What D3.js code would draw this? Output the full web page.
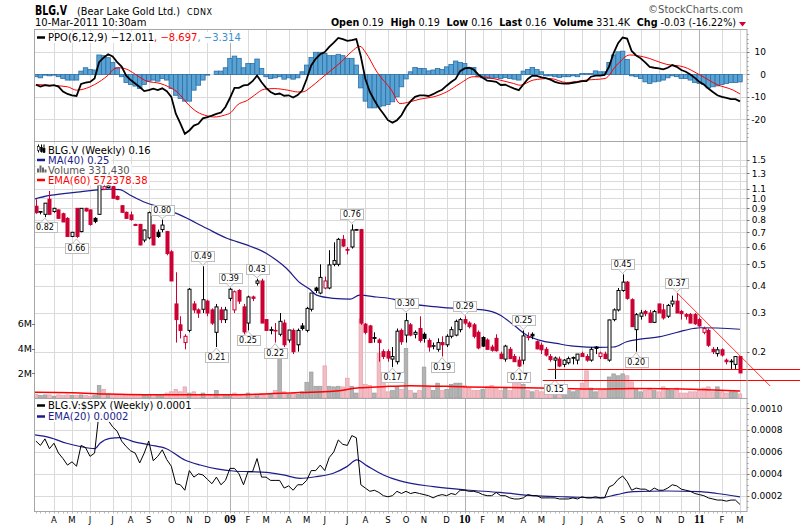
<!DOCTYPE html>
<html>
<head>
<meta charset="utf-8">
<script src="https://cdn.jsdelivr.net/npm/d3@7"></script>
<style>
  body { margin: 0; background: #fff; }
  svg { display: block; }
  text { font-family: "DejaVu Sans", sans-serif; }
</style>
</head>
<body>
<div id="chart"></div>
<script>
// Weekly bars, one per Monday from 10-Mar-2008 to 7-Mar-2011
const opens = [
  .92,.87,.845,.99,.87,.885,.85,.81,.67,.90,
  .705,.90,.885,.81,.845,1.10,1.12,1.13,1.02,.925,
  .863,.84,.76,.76,.645,.66,.756,.70,.72,.705,
  .57,.33,.265,.22,.25,.33,.31,.312,.34,.31,
  .245,.31,.28,.35,.31,.38,.32,.27,.355,.41,
  .42,.28,.25,.25,.24,.27,.226,.25,.215,.262,
  .25,.312,.39,.37,.39,.39,.50,.50,.65,.585,
  .60,.72,.72,.267,.262,.232,.226,.20,.20,.185,
  .18,.25,.238,.265,.24,.255,.24,.225,.212,.205,
  .22,.215,.235,.238,.252,.28,.27,.265,.245,.232,
  .226,.21,.23,.195,.185,.205,.19,.183,.183,.232,
  .24,.222,.214,.205,.19,.183,.185,.175,.178,.188,
  .183,.196,.19,.183,.21,.19,.195,.183,.28,
  .31,.38,.415,.345,.252,.29,.305,.30,.272,.33,
  .31,.29,.33,.34,.305,.295,.295,.295,.28,.245,
  .25,.205,.196,.204,.183,.18,.175,.19
];
const highs = [
  .99,.875,.95,1.08,.905,.89,.86,.82,.70,.90,
  .90,.905,.89,.82,1.15,1.16,1.15,1.14,1.03,.93,
  .87,.87,.765,.765,.72,.87,.76,.72,.80,.71,
  .58,.46,.29,.24,.39,.34,.315,.49,.345,.315,
  .33,.32,.32,.39,.38,.385,.33,.36,.36,.43,
  .43,.28,.26,.27,.30,.28,.25,.255,.255,.27,
  .32,.37,.395,.50,.44,.58,.63,.66,.68,.60,
  .76,.725,.725,.27,.265,.245,.23,.205,.205,.21,
  .255,.255,.30,.27,.25,.29,.245,.23,.22,.23,
  .235,.24,.26,.28,.285,.29,.275,.27,.25,.235,
  .23,.215,.24,.20,.215,.21,.195,.19,.25,.245,
  .245,.225,.22,.21,.195,.19,.19,.185,.19,.19,
  .195,.20,.195,.21,.212,.20,.20,.28,.315,
  .39,.45,.42,.35,.30,.31,.31,.31,.31,.33,
  .33,.33,.36,.37,.31,.30,.30,.30,.285,.26,
  .255,.21,.21,.207,.186,.185,.19,.19
];
const lows = [
  .85,.845,.82,.84,.86,.81,.78,.67,.665,.66,
  .70,.87,.75,.77,.84,1.09,1.11,1.00,.98,.86,
  .81,.79,.75,.61,.63,.65,.61,.66,.70,.55,
  .42,.22,.23,.205,.245,.30,.285,.30,.29,.265,
  .21,.27,.27,.34,.30,.33,.24,.25,.34,.40,
  .27,.25,.24,.22,.235,.21,.22,.195,.20,.25,
  .245,.305,.37,.365,.385,.385,.49,.49,.60,.555,
  .59,.715,.265,.24,.22,.22,.18,.185,.18,.17,
  .175,.215,.22,.235,.23,.22,.22,.20,.205,.20,
  .19,.21,.23,.235,.245,.265,.255,.23,.205,.21,
  .205,.20,.20,.185,.18,.185,.18,.17,.175,.225,
  .228,.205,.195,.19,.18,.15,.17,.17,.175,.175,
  .175,.19,.18,.18,.195,.185,.185,.18,.275,
  .305,.375,.345,.26,.20,.28,.29,.27,.27,.30,
  .28,.285,.32,.30,.28,.28,.27,.265,.26,.24,
  .21,.195,.19,.19,.175,.165,.165,.16
];
const closes = [
  .86,.865,.95,.845,.90,.81,.78,.67,.70,.67,
  .90,.875,.76,.785,1.15,1.13,1.14,1.00,.99,.863,
  .81,.80,.752,.613,.717,.86,.613,.67,.755,.56,
  .42,.28,.25,.235,.385,.31,.30,.345,.30,.27,
  .32,.28,.31,.385,.375,.34,.246,.355,.35,.42,
  .27,.25,.252,.25,.275,.215,.251,.20,.25,.255,
  .315,.37,.38,.436,.42,.497,.52,.65,.606,.58,
  .717,.72,.27,.245,.22,.23,.22,.19,.187,.19,
  .248,.222,.277,.238,.245,.225,.23,.21,.213,.22,
  .215,.235,.252,.275,.28,.27,.26,.235,.208,.212,
  .205,.203,.202,.186,.212,.186,.18,.172,.236,.234,
  .236,.206,.204,.193,.184,.187,.172,.183,.186,.187,
  .195,.19,.183,.205,.207,.197,.186,.279,.31,
  .38,.415,.35,.26,.295,.30,.298,.272,.305,.30,
  .285,.325,.34,.30,.298,.29,.27,.268,.262,.255,
  .214,.20,.204,.193,.18,.181,.19,.16
];
// volume in millions of shares
const volumes = [
  .30,.20,.25,.25,.15,.25,.20,.25,.20,.20,
  .25,.20,.15,.20,1.0,.7,.3,.3,.25,.3,
  .25,.2,.25,.3,.25,.3,.3,.25,.3,.4,
  .5,.7,.5,.9,.4,.5,.3,.4,.3,.3,
  .6,.3,.3,.3,.4,.3,.3,.4,.3,.3,
  .35,.3,.3,.6,3.3,.5,.3,.4,.3,.5,
  1.27,2.1,.95,.95,2.6,.95,.9,.95,.9,1.6,
  .95,.4,6.4,1.1,1.0,.4,3.6,1.3,.5,.6,
  .9,.7,4.0,.6,.4,.6,2.5,.9,.6,1.2,
  .6,.7,1.1,1.2,1.2,1.0,.8,.6,.6,.7,
  .9,1.0,.8,.6,.8,.6,1.3,2.0,1.1,.6,
  .5,.6,.5,.6,.7,.9,.6,.5,.6,.5,
  .6,1.2,2.2,.8,.5,.6,.7,1.7,1.95,
  1.8,1.95,1.8,1.3,.7,.5,.6,.8,.6,.5,
  .9,.7,.6,.8,.4,.4,.5,.5,.6,.8,
  .9,.5,.9,.5,.4,.5,.5,.33143
];
const ppo = [
  -4.6,-5.4,-4.8,-5.1,-4.8,-5.4,-7.6,-8.7,-9.3,-9.6,
  -4.2,-3.6,-3.3,-1.8,5.5,7.5,9.0,8.0,5.5,3.5,
  -0.5,-2.5,-4.0,-5.6,-7.4,-7.0,-6.3,-7.0,-6.2,-7.5,
  -10.0,-17.5,-21.8,-26.5,-25.0,-22.8,-22.0,-19.6,-19.0,-18.4,
  -17.6,-17.0,-14.5,-10.5,-6.0,-6.0,-4.9,-4.6,-3.0,-0.5,
  -3.5,-6.0,-7.8,-8.9,-8.5,-9.5,-9.3,-10.3,-9.2,-7.2,
  -2.0,4.0,7.0,9.0,10.0,12.3,14.2,16.3,15.8,15.0,
  15.3,15.8,8.0,-2.0,-7.8,-11.5,-14.9,-17.5,-20.4,-21.5,
  -20.4,-18.2,-14.5,-12.0,-10.0,-9.3,-9.3,-9.6,-8.8,-7.7,
  -6.8,-5.0,-3.4,-2.0,1.5,2.7,3.0,2.2,0.0,-1.5,
  -2.8,-3.0,-3.3,-4.7,-4.6,-5.5,-6.3,-7.0,-4.5,-2.0,
  -0.5,-0.6,-1.3,-1.6,-2.3,-3.3,-3.9,-4.1,-4.1,-3.7,
  -3.4,-3.0,-3.0,-1.0,-0.5,-0.5,-0.2,3.5,9.5,
  14.0,16.5,16.0,10.5,8.5,7.2,5.4,3.4,3.0,2.7,
  2.3,3.0,4.2,3.4,2.0,1.2,0.0,-1.5,-3.3,-4.5,
  -6.3,-7.8,-9.3,-10.0,-10.4,-11.0,-11.0,-12.011
];
const ppoHist = [
  -1.0,-1.5,-0.3,-0.6,-0.3,-1.0,-1.8,-2.5,-2.5,-2.5,
  1.5,3.0,2.2,2.0,8.7,8.4,7.5,5.4,3.0,-1.0,
  -3.6,-4.5,-5.2,-6.3,-4.5,-3.0,-2.5,-3.0,-1.8,-2.5,
  -6.3,-9.3,-10.7,-11.9,-11.9,-7.0,-4.8,-2.5,-0.3,0.0,
  1.5,1.5,3.0,7.2,8.2,7.2,3.0,4.9,4.9,6.9,
  2.7,-1.0,-1.8,-1.5,-1.0,-2.1,-1.5,-2.1,-1.5,1.2,
  4.2,7.6,9.9,9.9,9.4,8.4,8.4,9.0,8.4,7.2,
  7.2,4.2,-6.0,-11.9,-14.9,-14.9,-14.5,-14.0,-13.4,-12.2,
  -10.0,-5.5,-2.0,1.2,3.1,2.7,2.7,1.6,2.0,2.7,
  2.2,3.4,4.5,6.0,5.4,4.9,3.1,3.1,-1.0,-1.5,
  -1.8,-1.8,-1.5,-1.8,-1.3,-1.8,-2.1,-2.5,1.5,2.2,
  3.1,2.2,1.2,-0.6,-0.6,-1.0,-1.3,-1.0,-1.0,-0.6,
  -1.0,0.4,0.4,0.4,1.6,1.2,1.2,5.4,8.7,
  10.1,10.4,6.7,-0.6,-1.0,-1.8,-3.3,-4.0,-3.3,-3.0,
  -2.5,-1.5,-0.6,-1.0,-1.8,-1.8,-2.5,-3.6,-4.0,-4.5,
  -6.0,-5.5,-5.1,-4.5,-4.0,-3.6,-3.6,-3.314
];
// BLG.V : $SPX ratio
const ratio = [
  .00070,.00066,.00072,.00063,.00068,.00059,.00054,.00048,.00051,.00047,
  .00066,.00064,.00056,.00059,.00096,.00092,.00089,.00083,.00079,.00070,
  .00065,.00061,.00059,.00050,.00059,.00070,.00052,.00056,.00062,.00053,
  .00047,.00031,.00030,.00025,.00043,.00037,.00040,.00039,.00035,.00031,
  .00037,.00030,.00034,.00045,.00045,.00040,.00030,.00042,.00042,.00054,
  .00037,.00037,.00034,.00034,.00034,.00027,.00029,.00025,.00030,.00030,
  .00034,.00043,.00043,.00048,.00043,.00055,.00060,.00071,.00067,.00066,
  .00075,.00073,.00030,.00027,.00024,.00025,.00023,.00020,.00019,.00020,
  .00024,.00022,.00024,.00022,.00023,.00022,.00021,.00020,.00018,.00020,
  .00021,.00020,.00022,.00021,.00025,.00025,.00024,.00024,.00023,.00021,
  .00020,.00020,.00023,.00020,.00020,.00018,.00017,.00017,.00018,.00021,
  .00020,.00020,.00018,.00018,.00018,.00018,.00017,.00017,.00017,.00018,
  .00017,.00019,.00018,.00018,.00019,.00018,.00018,.00028,.00030,
  .00035,.00038,.00033,.00025,.00027,.00026,.00026,.00024,.00027,.00025,
  .00025,.00027,.00030,.00029,.00026,.00025,.00024,.00022,.00021,.00020,
  .00018,.00017,.00016,.00016,.00015,.00016,.00016,.00012
];

// smooth overlay lines, read at (bar index, value)
const signalIdx = [0,7,9,12,13,16,17.5,18.6,20.5,22.3,24.6,27.5,29.4,31.3,33.9,35.7,38,39.4,41.7,43.2,44.6,46.9,48.4,50.6,52.8,55.8,58,59.1,61,62.8,65,67.7,69.9,71.8,73,75.6,78.8,80.7,82.9,85.1,88.1,91,94,96.9,99.9,102.8,105.8,107.3,110.2,113.9,117.6,122,126.1,128.7,131.6,134.6,139.8,143.5,147.2,150.9,154.5,156];
const signalVal = [-4.5,-5.5,-7.0,-5.5,-4.5,-0.3,2.7,3.0,2.0,-0.3,-3.0,-4.0,-5.5,-7.8,-13.7,-16.7,-18.5,-19,-18.2,-17,-13.7,-11.5,-9.3,-6.6,-6.3,-7,-7.8,-7.8,-5.5,-2.5,1.2,5.7,10.1,12.6,10.0,1.0,-7.0,-13.0,-12.2,-11,-10,-7.8,-4,-1.0,-1.3,-2.5,-4,-4.8,-2.5,-1.8,-3.6,-2.5,-1.8,4.2,8.7,7.9,4.5,3.4,-0.3,-4.5,-7,-8.697];
const maIdx = [-1.3,3.1,9.8,16.4,18.6,20.8,23.8,28.2,31.9,37.8,42.3,46.7,51.1,53.4,55.5,58.5,60.7,62.2,65.9,69.6,71.7,75.5,79.2,80.7,88.1,93.2,99.1,102.8,105.8,108.7,111.7,115.4,119.1,125,128,130.9,133.9,138.3,142.7,145.7,147.2,156];
const maVal = [.98,1.03,1.07,1.10,1.095,1.035,.965,.90,.84,.73,.657,.613,.56,.52,.48,.412,.385,.362,.35,.347,.362,.355,.347,.338,.321,.315,.31,.294,.265,.238,.225,.218,.212,.209,.21,.222,.228,.234,.247,.255,.257,.253];
const volEmaIdx = [-0.2,8,16,24,34,44,52.6,58.5,65.9,71.7,76.9,82.8,95.4,111.7,125,132.4,147.2,156];
const volEmaVal = [.46,.42,.32,.27,.26,.27,.36,.44,.54,.82,.92,1.0,.9,.8,.72,.76,.68,.57237838];
const ratEmaIdx = [-0.2,3.1,6.8,9.8,13.1,14.2,16.4,18.6,21.6,25.3,28.9,33,36.4,40.1,43.7,47.4,51.1,54.8,58.5,62.2,65.9,68.9,71.1,73.3,77,80.7,88.1,95.4,102.8,110.2,117.6,125,128.7,132.4,139.8,147.2,150.9,156];
const ratEmaVal = [.000756,.000732,.00068,.00065,.00063,.00068,.000725,.000732,.000695,.000664,.00063,.000527,.000481,.000445,.000426,.00042,.000414,.00039,.000359,.000375,.000405,.000466,.000527,.000475,.00039,.000335,.000283,.000252,.00023,.0002,.00019,.00018,.00021,.000237,.000243,.000237,.00022,.00019];

// annotated highs (H) and lows (L)
const labelIdx  = [2,9,28,37,40,43,47,49,53,70,79,82,90,95,107,108,115,130,133,142];
const labelSide = ["L","L","H","H","L","H","L","H","L","H","L","H","L","H","L","H","L","H","L","H"];

// hand-drawn support lines and trend line
const supportPrice = [0.166, 0.149];
const supportFrom  = [113.4, 112.3];
const trendIdx   = [142.1, 162.7];
const trendPrice = [0.37, 0.1395];

const ppoTicks = [-20, -10, 0, 10];
const priceTicks = [0.2,0.3,0.4,0.5,0.6,0.7,0.8,0.9,1.0,1.1,1.2,1.3,1.4,1.5];
const priceLabels = [0.2,0.3,0.4,0.5,0.6,0.7,0.8,0.9,1.0,1.1,1.3,1.5];
const volTicks = [2, 4, 6];
const ratioTicks = [0.0002,0.0004,0.0006,0.0008,0.0010];

const n = closes.length;
const dates = d3.timeMonday.range(new Date(2008, 2, 10), new Date(2011, 2, 8));

const W = 800, H = 528, L = 35, R = 747;
const ppoTop = 29, ppoBot = 141, mainTop = 141, mainBot = 398, ratTop = 398, ratBot = 511;

const svg = d3.select("#chart").append("svg")
  .attr("width", W).attr("height", H)
  .style("background", "#fff");

const x = d3.scaleLinear().domain([-0.2, 157.56]).range([L, R]);
const yPpo = d3.scaleLinear().domain([-29.7, 20.3]).range([ppoBot, ppoTop]);
const yPx = d3.scaleLog().domain([0.123, 1.824]).range([mainBot, mainTop]);
const yVol = d3.scaleLinear().domain([0, 20.8]).range([mainBot, mainTop]);
const yRat = d3.scaleLinear().domain([0.00006, 0.001094]).range([ratBot, ratTop]);

const monthStarts = d3.range(1, n).filter(j => dates[j].getMonth() !== dates[j - 1].getMonth());
const crisp = v => Math.round(v) + 0.5;

const defs = svg.append("defs");
[["clipPpo", ppoTop, ppoBot], ["clipMain", mainTop, mainBot], ["clipRat", ratTop, ratBot]].forEach(c => {
  defs.append("clipPath").attr("id", c[0])
    .append("rect").attr("x", L).attr("y", c[1]).attr("width", R - L).attr("height", c[2] - c[1]);
});

// panel background + grid
function panelGrid(top, bot, ticks, yS) {
  const g = svg.append("g");
  g.append("rect").attr("x", L).attr("y", top).attr("width", R - L).attr("height", bot - top).attr("fill", "#fff");
  g.selectAll(".hg").data(ticks).join("line")
    .attr("x1", L).attr("x2", R)
    .attr("y1", d => crisp(yS(d))).attr("y2", d => crisp(yS(d)))
    .attr("stroke", "#dadada");
  g.selectAll(".vg").data(monthStarts).join("line")
    .attr("x1", j => crisp(x(j))).attr("x2", j => crisp(x(j)))
    .attr("y1", top).attr("y2", bot)
    .attr("stroke", j => dates[j].getMonth() === 0 ? "#b0b0b0" : "#dadada");
}
panelGrid(ppoTop, ppoBot, ppoTicks, yPpo);
panelGrid(mainTop, mainBot, priceTicks, yPx);
panelGrid(ratTop, ratBot, ratioTicks, yRat);

const isUp = j => closes[j] >= (j > 0 ? closes[j - 1] : opens[0]);
const step = x(1) - x(0);

// ---- PPO panel
const gP = svg.append("g").attr("clip-path", "url(#clipPpo)");
gP.selectAll("rect").data(d3.range(n)).join("rect")
  .attr("x", j => x(j) - step / 2)
  .attr("width", step)
  .attr("y", j => Math.min(yPpo(0), yPpo(ppoHist[j])))
  .attr("height", j => Math.abs(yPpo(ppoHist[j]) - yPpo(0)))
  .attr("fill", "#58a2d4").attr("stroke", "#2d6fa6").attr("stroke-width", 0.8);
gP.append("path").datum(signalIdx)
  .attr("d", d3.line().x(j => x(j)).y((j, k) => yPpo(signalVal[k])).curve(d3.curveMonotoneX))
  .attr("fill", "none").attr("stroke", "#ff0000").attr("stroke-width", 1);
gP.append("path").datum(d3.range(n))
  .attr("d", d3.line().x(j => x(j)).y(j => yPpo(ppo[j])))
  .attr("fill", "none").attr("stroke", "#000").attr("stroke-width", 1.8);

// ---- price panel: volume first
const gM = svg.append("g").attr("clip-path", "url(#clipMain)");
gM.selectAll(".vol").data(d3.range(n)).join("rect")
  .attr("x", j => x(j) - 1.8).attr("width", 3.6)
  .attr("y", j => yVol(volumes[j])).attr("height", j => yVol(0) - yVol(volumes[j]))
  .attr("fill", j => isUp(j) ? "#b3b3b3" : "#f3bcc4")
  .attr("stroke", j => isUp(j) ? "#9a9a9a" : "#e6a0aa").attr("stroke-width", 0.7);
gM.append("path").datum(volEmaIdx)
  .attr("d", d3.line().x(j => x(j)).y((j, k) => yVol(volEmaVal[k])).curve(d3.curveMonotoneX))
  .attr("fill", "none").attr("stroke", "#ff0000").attr("stroke-width", 1.5);
gM.append("path").datum(maIdx)
  .attr("d", d3.line().x(j => x(j)).y((j, k) => yPx(maVal[k])).curve(d3.curveMonotoneX))
  .attr("fill", "none").attr("stroke", "#1c1c8a").attr("stroke-width", 1.2);

const candleCol = j => isUp(j) ? "#000" : "#cc0033";
gM.selectAll(".wick").data(d3.range(n)).join("line")
  .attr("x1", j => crisp(x(j))).attr("x2", j => crisp(x(j)))
  .attr("y1", j => yPx(highs[j])).attr("y2", j => yPx(lows[j]))
  .attr("stroke", candleCol);
gM.selectAll(".body").data(d3.range(n)).join("rect")
  .attr("x", j => crisp(x(j)) - 1.5).attr("width", 3)
  .attr("y", j => yPx(Math.max(opens[j], closes[j])))
  .attr("height", j => Math.max(0.6, Math.abs(yPx(opens[j]) - yPx(closes[j]))))
  .attr("fill", j => closes[j] > opens[j] ? "#fff" : candleCol(j))
  .attr("stroke", candleCol).attr("stroke-width", 1);

// ---- ratio panel
const gR = svg.append("g").attr("clip-path", "url(#clipRat)");
gR.append("path").datum(ratEmaIdx)
  .attr("d", d3.line().x(j => x(j)).y((j, k) => yRat(ratEmaVal[k])).curve(d3.curveMonotoneX))
  .attr("fill", "none").attr("stroke", "#1c1c8a").attr("stroke-width", 1.2);
gR.append("path").datum(d3.range(n))
  .attr("d", d3.line().x(j => x(j)).y(j => yRat(ratio[j])))
  .attr("fill", "none").attr("stroke", "#000").attr("stroke-width", 1);

// ---- high/low callouts
const fmt2 = d3.format(".2f");
const gL = svg.append("g");
labelIdx.forEach((j, k) => {
  const hi = labelSide[k] === "H";
  const v = hi ? highs[j] : lows[j];
  const px = x(j), py = yPx(v);
  const bh = 10;
  const by = hi ? py - 5 - bh : py + 5;
  const t = gL.append("text").attr("x", px).attr("y", by + 8)
    .attr("text-anchor", "middle").attr("font-size", 8).text(fmt2(v));
  const w = t.node().getComputedTextLength() + 5;
  gL.insert("rect", () => t.node())
    .attr("x", crisp(px - w / 2)).attr("y", crisp(by)).attr("width", Math.round(w)).attr("height", bh)
    .attr("fill", "#fff").attr("stroke", "#bdbdbd");
  const edge = hi ? crisp(by) + bh : crisp(by);
  const tip = hi ? py - 1 : py + 1;
  gL.insert("path", () => t.node())
    .attr("d", `M${px - 4},${edge}L${px},${tip}L${px + 4},${edge}`)
    .attr("fill", "#fff").attr("stroke", "#bdbdbd");
});

// ---- support / trend lines (run past the plot edge)
supportPrice.forEach((p, k) => {
  svg.append("line")
    .attr("x1", x(supportFrom[k])).attr("x2", W)
    .attr("y1", crisp(yPx(p))).attr("y2", crisp(yPx(p)))
    .attr("stroke", "#ff0000").attr("stroke-width", 1);
});
svg.append("line")
  .attr("x1", x(trendIdx[0])).attr("y1", yPx(trendPrice[0]))
  .attr("x2", x(trendIdx[1])).attr("y2", yPx(trendPrice[1]))
  .attr("stroke", "#ff0000").attr("stroke-width", 0.8);

// ---- borders
[[ppoTop, ppoBot], [mainTop, mainBot], [ratTop, ratBot]].forEach(p => {
  svg.append("rect").attr("x", L - 0.5).attr("y", p[0] + 0.5).attr("width", R - L + 0.5).attr("height", p[1] - p[0])
    .attr("fill", "none").attr("stroke", "#a6a6a6");
});

// ---- right axes
function rightAxis(vals, yS, fmt, anchorX, anchor, minor) {
  const g = svg.append("g").attr("font-size", 9);
  g.selectAll("line.mt").data(minor).join("line")
    .attr("x1", R).attr("x2", R + 1.5).attr("y1", d => crisp(yS(d))).attr("y2", d => crisp(yS(d)))
    .attr("stroke", "#999");
  g.selectAll("line.t").data(vals).join("line")
    .attr("x1", R).attr("x2", R + 2.5).attr("y1", d => crisp(yS(d))).attr("y2", d => crisp(yS(d)))
    .attr("stroke", "#777");
  g.selectAll("text").data(vals).join("text")
    .attr("x", anchorX).attr("y", d => yS(d) + 3.3).attr("text-anchor", anchor)
    .text(fmt);
}
rightAxis(ppoTicks, yPpo, d => String(d), 766, "end", d3.range(-28, 20, 2));
rightAxis(priceLabels, yPx, d3.format(".1f"), 766, "end", []);
rightAxis(ratioTicks, yRat, d3.format(".4f"), 751, "start", d3.range(0.0001, 0.00106, 0.00005));

// volume axis on the left
const gV = svg.append("g").attr("font-size", 9.5);
gV.selectAll("line").data(volTicks).join("line")
  .attr("x1", L - 3).attr("x2", L).attr("y1", d => crisp(yVol(d))).attr("y2", d => crisp(yVol(d)))
  .attr("stroke", "#777");
gV.selectAll("text").data(volTicks).join("text")
  .attr("x", L - 3).attr("y", d => yVol(d) + 3.5).attr("text-anchor", "end")
  .text(d => d + "M");

// ---- time axis
const gX = svg.append("g");
gX.selectAll("line").data(d3.range(n)).join("line")
  .attr("x1", j => crisp(x(j))).attr("x2", j => crisp(x(j)))
  .attr("y1", ratBot + 0.5).attr("y2", ratBot + 2.5)
  .attr("stroke", "#aaa").attr("stroke-width", 0.8);
gX.selectAll("text").data(monthStarts).join("text")
  .attr("x", j => x(j)).attr("y", 523).attr("text-anchor", "middle")
  .attr("font-size", j => dates[j].getMonth() === 0 ? 11.5 : 8.5)
  .attr("font-weight", j => dates[j].getMonth() === 0 ? "bold" : "normal")
  .style("font-family", j => dates[j].getMonth() === 0 ? '"Liberation Serif", serif' : '"DejaVu Sans", sans-serif')
  .text(j => dates[j].getMonth() === 0 ? d3.timeFormat("%y")(dates[j]) : d3.timeFormat("%b")(dates[j])[0]);

// ---- legends
function legendLine(g, yy, parts, icon) {
  const t = g.append("text").attr("x", 48).attr("y", yy).attr("font-size", 10);
  parts.forEach(p => t.append("tspan").attr("fill", p[1]).text(p[0]));
  const w = t.node().getComputedTextLength();
  g.insert("rect", () => t.node()).attr("x", 36).attr("y", yy - 9).attr("width", w + 14).attr("height", 11)
    .attr("fill", "#fff").attr("fill-opacity", 0.9);
  icon(g, yy);
}
const lineIcon = (col, wd) => (g, yy) => g.append("line").attr("x1", 37).attr("x2", 45)
  .attr("y1", yy - 3.5).attr("y2", yy - 3.5).attr("stroke", col).attr("stroke-width", wd);

const f3 = d3.format(".3f"), f4 = d3.format(".4f");
const gLeg = svg.append("g");
legendLine(gLeg, 41, [
  ["PPO(6,12,9) " + f3(ppo[n - 1]), "#000"],
  [", " + f3(signalVal[signalVal.length - 1]), "#ff0000"],
  [", " + f3(ppoHist[n - 1]), "#3a8fc8"]
], lineIcon("#000", 2.5));

legendLine(gLeg, 153.5, [["BLG.V (Weekly) " + fmt2(closes[n - 1]), "#000"]], (g, yy) => {
  [[38, 2, 7], [41, 1, 6], [43.5, 3, 5]].forEach(b => {
    g.append("line").attr("x1", b[0] + 0.5).attr("x2", b[0] + 0.5).attr("y1", yy - 9).attr("y2", yy - 1).attr("stroke", "#000");
    g.append("rect").attr("x", b[0] - 0.5).attr("y", yy - b[2]).attr("width", 2).attr("height", 4)
      .attr("fill", b[1] === 2 ? "#fff" : "#000").attr("stroke", "#000").attr("stroke-width", 0.6);
  });
});
legendLine(gLeg, 163.5, [["MA(40) " + fmt2(maVal[maVal.length - 1]), "#1c1c8a"]], lineIcon("#1c1c8a", 2.5));
legendLine(gLeg, 173.5, [["Volume " + d3.format(",")(Math.round(volumes[n - 1] * 1e6)), "#555"]], (g, yy) => {
  [[37, 4], [39.5, 7], [42, 5], [44.5, 3]].forEach(b => g.append("rect")
    .attr("x", b[0]).attr("y", yy - 1 - b[1]).attr("width", 2).attr("height", b[1]).attr("fill", "#666"));
});
legendLine(gLeg, 183.5, [["EMA(60) " + d3.format(".2f")(volEmaVal[volEmaVal.length - 1] * 1e6), "#ff0000"]], lineIcon("#ff0000", 2.5));

legendLine(gLeg, 409, [["BLG.V:$SPX (Weekly) " + f4(ratio[n - 1]), "#000"]], lineIcon("#000", 2.5));
legendLine(gLeg, 420, [["EMA(20) " + f4(ratEmaVal[ratEmaVal.length - 1]), "#1c1c8a"]], lineIcon("#1c1c8a", 2.5));

// ---- header
const hd = svg.append("g").style("font-family", '"Liberation Sans", Arial, sans-serif');
hd.append("text").attr("x", 35).attr("y", 15).attr("font-size", 14).attr("font-weight", "bold")
  .attr("textLength", 32).attr("lengthAdjust", "spacingAndGlyphs").text("BLG.V");
hd.append("text").attr("x", 77).attr("y", 14.5).attr("font-size", 10)
  .attr("textLength", 103).attr("lengthAdjust", "spacingAndGlyphs").text("(Bear Lake Gold Ltd.)");
hd.append("text").attr("x", 187).attr("y", 14.5).attr("font-size", 8).attr("letter-spacing", 0.6).text("CDNX");
hd.append("text").attr("x", 35).attr("y", 26).attr("font-size", 10).text("10-Mar-2011 10:30am");
hd.append("text").attr("x", 743).attr("y", 13).attr("font-size", 10).attr("text-anchor", "end")
  .attr("fill", "#555").style("font-family", '"DejaVu Sans", sans-serif').text("\u00A9StockCharts.com");

const quote = [["Open", "0.19"], ["High", "0.19"], ["Low", "0.16"], ["Last", "0.16"], ["Volume", "331.4K"], ["Chg", "-0.03 (-16.22%)"]];
const qt = hd.append("text").attr("x", 736).attr("y", 26).attr("font-size", 9.6).attr("text-anchor", "end")
  .style("white-space", "pre");
quote.forEach((q, k) => {
  qt.append("tspan").attr("font-weight", "bold").text((k ? "  " : "") + q[0]);
  qt.append("tspan").text(" " + q[1]);
});
hd.append("path").attr("d", "M739,22L746,22L742.5,26.5Z").attr("fill", "#cc0033");
</script>
</body>
</html>
